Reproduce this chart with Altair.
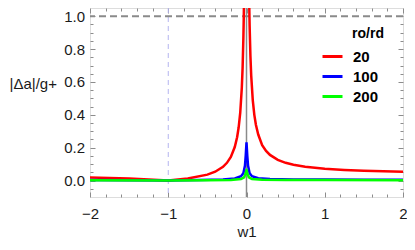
import altair as alt
import pandas as pd

# ---- data ----
series_names = ["20", "100", "200"]
series_colors = ["#ff0000", "#0000ff", "#00ff00"]

red_w = [-2, -1.75, -1.5, -1.25, -1, -0.75, -0.5, -0.4, -0.3, -0.25, -0.2, -0.15, -0.12, -0.1,
         -0.08, -0.06, -0.05, -0.04, -0.035, -0.03, -0.025,
         0.025, 0.03, 0.035, 0.04, 0.05, 0.06, 0.08, 0.1, 0.12, 0.15, 0.2, 0.25, 0.3, 0.4,
         0.5, 0.6, 0.75, 1, 1.25, 1.5, 1.75, 2]
red_v = [0.018, 0.015, 0.012, 0.007, 0.0, 0.012, 0.036, 0.054, 0.084, 0.108, 0.144, 0.204, 0.264, 0.324,
         0.414, 0.564, 0.684, 0.864, 0.99, 1.16, 1.4,
         1.48, 1.24, 1.07, 0.94, 0.76, 0.64, 0.49, 0.40, 0.34, 0.28, 0.216, 0.18, 0.156, 0.126,
         0.108, 0.096, 0.084, 0.072, 0.065, 0.06, 0.057, 0.054]

blue_w = [-2, -1.5, -1, -0.6, -0.3, -0.15, -0.07, -0.04, -0.02, -0.01, 0, 0.01, 0.02, 0.04, 0.07,
          0.15, 0.3, 0.6, 1, 1.5, 2]
blue_v = [0.004, 0.002, 0.0, 0.003, 0.007, 0.013, 0.026, 0.045, 0.09, 0.15, 0.232, 0.15, 0.09, 0.045,
          0.026, 0.014, 0.009, 0.007, 0.006, 0.005, 0.005]

green_w = [-2, -1, -0.5, -0.2, -0.07, -0.03, -0.01, 0, 0.01, 0.03, 0.07, 0.2, 0.5, 1, 2]
green_v = [0.002, 0.0, 0.002, 0.004, 0.01, 0.02, 0.045, 0.07, 0.045, 0.02, 0.01, 0.005, 0.003, 0.003, 0.002]

x_major = [-2, -1, 0, 1, 2]
x_minor = [-1.8, -1.6, -1.4, -1.2, -0.8, -0.6, -0.4, -0.2, 0.2, 0.4, 0.6, 0.8, 1.2, 1.4, 1.6, 1.8]
y_major = [0.0, 0.2, 0.4, 0.6, 0.8, 1.0]
y_minor = [-0.05, 0.05, 0.1, 0.15, 0.25, 0.3, 0.35, 0.45, 0.5, 0.55, 0.65, 0.7, 0.75, 0.85, 0.9, 0.95]

ref_hline = [1.0]
ref_vdash = [-1.0]
ref_vzero = [0.0]

rows = []
for name, ws, vs in [("20", red_w, red_v), ("100", blue_w, blue_v), ("200", green_w, green_v)]:
    for w, v in zip(ws, vs):
        rows.append({"w1": w, "val": v, "ratio": name})
df = pd.DataFrame(rows)

FONT = "Liberation Sans"
FRAME = "#8c8c8c"
TXT = "#1a1a1a"

xs = alt.Scale(domain=[-2, 2], nice=False, zero=False)
ys = alt.Scale(domain=[-0.1, 1.05], nice=False, zero=False)


def tick_axis(orient, values, size):
    return alt.Axis(orient=orient, values=values, offset=-size, tickSize=size, tickColor=FRAME,
                    tickWidth=1, domain=False, grid=False, labels=False, title=None)


x_main = alt.Axis(orient="bottom", values=x_major, format="d", offset=-5, tickSize=5,
                  tickColor=FRAME, tickWidth=1, domain=False, grid=False,
                  labelFont=FONT, labelFontSize=15, labelColor=TXT, labelPadding=9,
                  labelFlush=False, labelOverlap=False,
                  title="w1", titleFont=FONT, titleFontSize=15, titleFontWeight="normal",
                  titleColor=TXT, titleBaseline="middle", titleY=39.5)
y_main = alt.Axis(orient="left", values=y_major, format=".1f", offset=-5, tickSize=5,
                  tickColor=FRAME, tickWidth=1, domain=False, grid=False,
                  labelFont=FONT, labelFontSize=15, labelColor=TXT, labelPadding=5.5,
                  labelOverlap=False,
                  title="|Δa|/g+", titleFont=FONT, titleFontSize=15, titleFontWeight="normal",
                  titleColor=TXT, titleAngle=0, titleAlign="left", titleBaseline="middle",
                  titleX=-86, titleY=75)

lines = alt.Chart(df).mark_line(strokeWidth=2.5, clip=True).encode(
    x=alt.X("w1:Q", scale=xs, axis=x_main),
    y=alt.Y("val:Q", scale=ys, axis=y_main),
    color=alt.Color("ratio:N",
                    scale=alt.Scale(domain=series_names, range=series_colors),
                    sort=series_names,
                    legend=alt.Legend(title="\u200b" + "\u00a0" * 8 + "ro/rd", orient="none",
                                      legendX=231, legendY=18.5,
                                      symbolType="stroke", symbolSize=400, symbolStrokeWidth=3,
                                      labelFont=FONT, labelFontSize=15, labelFontWeight="bold",
                                      labelColor="black", labelOffset=9,
                                      titleFont=FONT, titleFontSize=14, titleFontWeight="bold",
                                      titleColor="black", titlePadding=4.5,
                                      rowPadding=0, padding=0)),
)


def ghost(xax, yax):
    return alt.Chart(df).mark_line(strokeOpacity=0, clip=True).encode(
        x=alt.X("w1:Q", scale=xs, axis=xax),
        y=alt.Y("val:Q", scale=ys, axis=yax),
    )


g_minor_bl = ghost(tick_axis("bottom", x_minor, 3), tick_axis("left", y_minor, 3))
g_major_tr = ghost(tick_axis("top", x_major, 5), tick_axis("right", y_major, 5))
g_minor_tr = ghost(tick_axis("top", x_minor, 3), tick_axis("right", y_minor, 3))

hline = alt.Chart(pd.DataFrame({"y": ref_hline})).mark_rule(
    color="#8a8a8a", strokeDash=[7, 4], strokeWidth=2).encode(
    y=alt.Y("y:Q", scale=ys, axis=None))
vdash = alt.Chart(pd.DataFrame({"x": ref_vdash})).mark_rule(
    color="#b4b4f0", strokeDash=[5, 4], strokeWidth=1).encode(
    x=alt.X("x:Q", scale=xs, axis=None))
vzero = alt.Chart(pd.DataFrame({"x": ref_vzero})).mark_rule(
    color="#8a8a8a", strokeWidth=1.5).encode(
    x=alt.X("x:Q", scale=xs, axis=None))

chart = alt.layer(vdash, vzero, hline, lines, g_minor_bl, g_major_tr, g_minor_tr).resolve_axis(
    x="independent", y="independent"
).properties(
    width=313, height=189,
    padding={"left": 82, "top": 0, "right": 4, "bottom": 45},
    autosize=alt.AutoSizeParams(type="none"),
).configure_view(stroke=FRAME, strokeWidth=1).configure(background="white")

chart.save("out.html", embed_options={"renderer": "svg", "actions": False})
